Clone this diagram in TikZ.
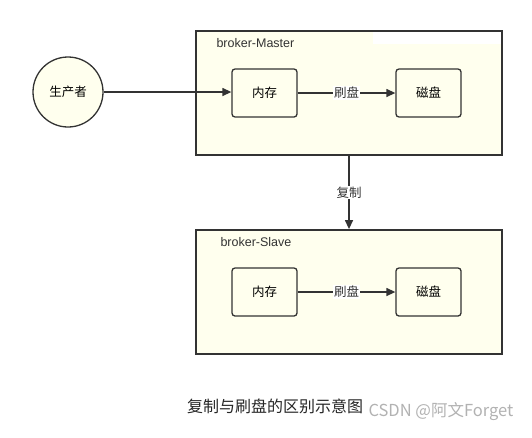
\documentclass[tikz,border=0pt]{standalone}
\usepackage{fontspec}
\setmainfont{Liberation Sans}
\newfontfamily\cjk{Noto Sans CJK SC}
\usetikzlibrary{arrows.meta}
\definecolor{bgy}{HTML}{FFFFEE}
\definecolor{ln}{HTML}{333333}
\tikzset{
  outerbox/.style={draw=ln, line width=1.8pt, fill=bgy},
  innerbox/.style={draw=ln, line width=1.3pt, fill=bgy, rounded corners=3pt, minimum width=65pt, minimum height=48pt, font=\cjk\fontsize{12.5}{14}\selectfont},
  conn/.style={draw=ln, line width=1.3pt, -{Triangle[length=9pt,width=8pt]}},
  elabel/.style={fill=white, inner sep=1pt, font=\cjk\fontsize{12.5}{14}\selectfont, text=ln},
  blabel/.style={font=\fontsize{12.5}{14}\selectfont, text=ln, anchor=west}
}
\begin{document}
\begin{tikzpicture}[x=1pt,y=-1pt]
\useasboundingbox[fill=white] (0,0) rectangle (532,437);
% master
\node[outerbox, minimum width=306pt, minimum height=124pt, inner sep=0pt] (master) at (349,93) {};
\fill[white] (373,31.5) rectangle (501,44);
\node[blabel] (mlab) at (213,43) {broker-Master};
\node[innerbox] (mem1) at (264.5,93) {内存};
\node[innerbox] (disk1) at (428.5,93) {磁盘};
\draw[conn] (mem1) -- node[elabel] (f1) {刷盘} (disk1);
% producer
\node[circle, draw=ln, line width=1.3pt, fill=bgy, minimum size=70pt, font=\cjk\fontsize{12.5}{14}\selectfont] (prod) at (68,92) {生产者};
\draw[conn] (prod.east) -- (prod.east -| mem1.west);
% slave
\node[outerbox, minimum width=306pt, minimum height=124pt, inner sep=0pt] (slave) at (349,292) {};
\node[blabel] (slab) at (217,242) {broker-Slave};
\node[innerbox] (mem2) at (264.5,292) {内存};
\node[innerbox] (disk2) at (428.5,292) {磁盘};
\draw[conn] (mem2) -- node[elabel] (f2) {刷盘} (disk2);
% replicate
\draw[conn] (master) -- node[elabel, pos=0.5] (cp) {复制} (slave);
% caption
\node[font=\cjk\fontsize{16}{18}\selectfont, text=black!85] (cap) at (275,406) {复制与刷盘的区别示意图};
\node[font=\cjk\fontsize{16.5}{18}\selectfont, text=black!30, anchor=west] (wm) at (365,412) {CSDN @阿文Forget};
\end{tikzpicture}
\end{document}
